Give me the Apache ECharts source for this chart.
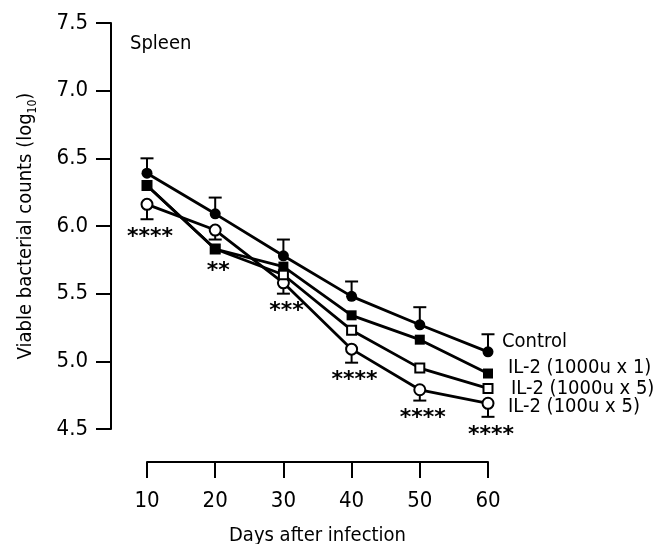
<!DOCTYPE html>
<html>
<head>
<meta charset="utf-8">
<title>Spleen</title>
<script type="text/javascript" src="https://cdn.jsdelivr.net/npm/echarts@6/dist/echarts.min.js"></script>
</head>
<body style="margin:0;background:#fff;">
<div id="container" style="width:663px;height:544px;"></div>
<script type="text/javascript">
// data
var days = [10, 20, 30, 40, 50, 60];
var seriesNames = ['Control', 'IL-2 (1000u x 1)', 'IL-2 (1000u x 5)', 'IL-2 (100u x 5)'];
var control = [6.39, 6.09, 5.78, 5.48, 5.27, 5.07];
var il2_1000x1 = [6.30, 5.83, 5.70, 5.34, 5.16, 4.91];
var il2_1000x5 = [6.30, 5.83, 5.64, 5.23, 4.95, 4.80];
var il2_100x5 = [6.16, 5.97, 5.58, 5.09, 4.79, 4.69];
var controlUpper = [6.50, 6.21, 5.90, 5.59, 5.40, 5.20];
var il2_100x5Lower = [6.05, 5.90, 5.50, 4.99, 4.71, 4.59];
var stars = ['****', '**', '***', '****', '****', '****'];

var FONT = '"DejaVu Sans Condensed", "DejaVu Sans", sans-serif';
var NUM_FONT = '"Liberation Sans Narrow", "DejaVu Sans Condensed", sans-serif';

function pairs(vals) {
    return days.map(function (d, i) { return [d, vals[i]]; });
}
function errData(vals, errs) {
    return days.map(function (d, i) { return [d, vals[i], errs[i]]; });
}

function renderErr(params, api) {
    var p = api.coord([api.value(0), api.value(1)]);
    var e = api.coord([api.value(0), api.value(2)]);
    var st = {stroke: '#000', lineWidth: 2};
    return {
        type: 'group',
        children: [
            {type: 'line', shape: {x1: p[0], y1: p[1], x2: e[0], y2: e[1]}, style: st},
            {type: 'line', shape: {x1: e[0] - 6.5, y1: e[1], x2: e[0] + 6.5, y2: e[1]}, style: st}
        ]
    };
}

// significance stars sit just under the lowest mark at each day
function renderStars(params, api) {
    var i = params.dataIndex;
    var d = days[i];
    var y = function (v) { return api.coord([d, v])[1]; };
    var bottom = Math.max(
        y(control[i]) + 6, y(il2_1000x1[i]) + 5, y(il2_1000x5[i]) + 5,
        y(il2_100x5[i]) + 6, y(il2_100x5Lower[i]) + 1
    );
    var x = api.coord([d, control[i]])[0];
    return {
        type: 'text',
        x: x + 3,
        y: bottom + 13 + 4,
        style: {
            text: stars[i],
            fill: '#000',
            fontSize: 22,
            fontWeight: 'bold',
            fontFamily: '"DejaVu Sans", sans-serif',
            align: 'center',
            verticalAlign: 'middle'
        }
    };
}

function lineSeries(name, vals, symbol, size, filled, dy, dist) {
    return {
        name: name,
        type: 'line',
        data: pairs(vals),
        clip: false,
        symbol: symbol,
        symbolSize: size,
        showAllSymbol: true,
        lineStyle: {color: '#000', width: 2.8},
        itemStyle: {color: filled ? '#000' : '#fff', borderColor: '#000', borderWidth: filled ? 0 : 2},
        emphasis: {disabled: true},
        endLabel: {
            show: true,
            formatter: '{a}',
            color: '#000',
            fontSize: 20,
            fontFamily: FONT,
            distance: dist,
            offset: [0, dy]
        }
    };
}

var dom = document.getElementById('container');
var myChart = echarts.init(dom);
var option = {
    animation: false,
    backgroundColor: '#fff',
    title: {
        text: 'Spleen',
        left: 130,
        top: 34,
        padding: 0,
        textStyle: {color: '#000', fontSize: 20, fontWeight: 'normal', fontFamily: FONT}
    },
    grid: {left: 147, right: 175, top: 23, bottom: 115, outerBoundsMode: 'none'},
    xAxis: {
        type: 'value',
        min: 10,
        max: 60,
        interval: 10,
        offset: 33,
        name: 'Days after infection',
        nameLocation: 'middle',
        nameGap: 64,
        nameTextStyle: {color: '#000', fontSize: 20, fontFamily: FONT},
        axisLine: {show: true, lineStyle: {color: '#000', width: 2}},
        axisTick: {show: true, length: 16, lineStyle: {color: '#000', width: 2}},
        axisLabel: {color: '#000', fontSize: 22, fontFamily: NUM_FONT, margin: 28},
        splitLine: {show: false}
    },
    yAxis: {
        type: 'value',
        min: 4.5,
        max: 7.5,
        interval: 0.5,
        offset: 36,
        name: '{a|Viable bacterial counts (log}{s|10}{a|)}',
        nameLocation: 'middle',
        nameGap: 72,
        nameTextStyle: {
            color: '#000',
            fontFamily: FONT,
            rich: {
                a: {fontSize: 20, fontFamily: FONT, color: '#000', lineHeight: 26},
                s: {fontSize: 12, fontFamily: FONT, color: '#000', verticalAlign: 'bottom', lineHeight: 12}
            }
        },
        axisLine: {show: true, lineStyle: {color: '#000', width: 2}},
        axisTick: {show: true, length: 15, lineStyle: {color: '#000', width: 2}},
        axisLabel: {
            color: '#000', fontSize: 22, fontFamily: NUM_FONT, margin: 23,
            formatter: function (v) { return v.toFixed(1); }
        },
        splitLine: {show: false}
    },
    series: [
        {type: 'custom', data: errData(control, controlUpper), renderItem: renderErr, clip: false, silent: true},
        {type: 'custom', data: errData(il2_100x5, il2_100x5Lower), renderItem: renderErr, clip: false, silent: true},
        lineSeries(seriesNames[3], il2_100x5, 'circle', 11, false, 4, 20),
        lineSeries(seriesNames[2], il2_1000x5, 'rect', 9, false, 0, 23),
        lineSeries(seriesNames[1], il2_1000x1, 'rect', 10, true, -6, 20),
        lineSeries(seriesNames[0], control, 'circle', 11, true, -10, 14),
        {type: 'custom', data: days.map(function (d, i) { return [d, i]; }), renderItem: renderStars, clip: false, silent: true}
    ]
};
myChart.setOption(option, true);
</script>
</body>
</html>
